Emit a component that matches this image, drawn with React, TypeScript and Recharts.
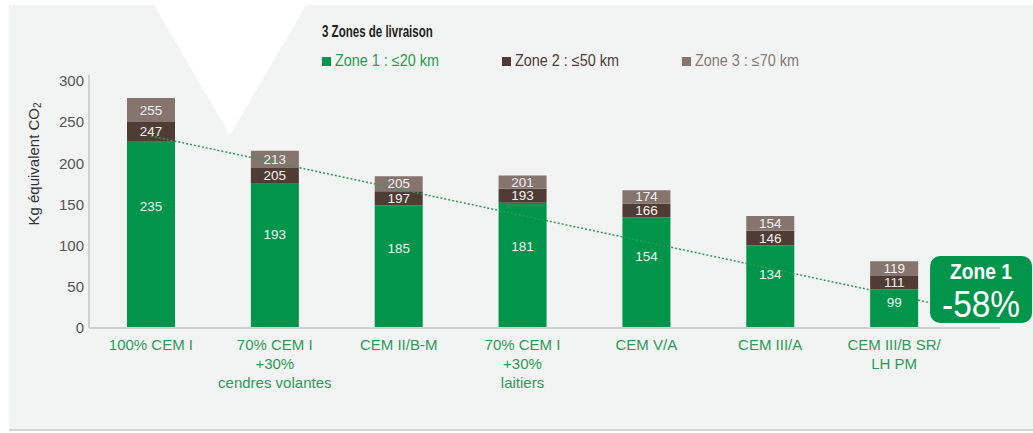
import React from 'react';
import { ComposedChart, Bar, Line, XAxis, YAxis, Legend, LabelList } from 'recharts';

const categories = [
  '100% CEM I',
  '70% CEM I\n+30%\ncendres volantes',
  'CEM II/B-M',
  '70% CEM I\n+30%\nlaitiers',
  'CEM V/A',
  'CEM III/A',
  'CEM III/B SR/\nLH PM',
];

// segment heights as they are drawn in the picture
const zone1 = [227, 175, 149, 152, 134, 100, 47];
const zone2 = [23, 19, 17, 17, 17, 18, 16];
const zone3 = [29, 21, 18, 16, 16, 18, 18];

// values printed on the segments
const zone1Labels = [235, 193, 185, 181, 154, 134, 99];
const zone2Labels = [247, 205, 197, 193, 166, 146, 111];
const zone3Labels = [255, 213, 205, 201, 174, 154, 119];

// dotted trend, first to last bar
const trend = [233, null, null, null, null, null, 40];

const yTicks = [0, 50, 100, 150, 200, 250, 300];

const GREEN = '#00954a';
const DARK = '#4f3c34';
const TAUPE = '#85756e';
const SANS = '"Liberation Sans", Arial, sans-serif';

const data = categories.map((name, i) => ({
  name,
  zone1: zone1[i],
  zone2: zone2[i],
  zone3: zone3[i],
  trend: trend[i],
}));

const CategoryTick = (props: any) => {
  const { x, y, payload } = props;
  const lines = String(payload.value).split('\n');
  return (
    <text x={x} y={y} textAnchor="middle" fill="#2f9a58" fontSize={15} fontFamily={SANS}>
      {lines.map((line, i) => (
        <tspan key={i} x={x} dy={i === 0 ? 22 : 19}>
          {line}
        </tspan>
      ))}
    </text>
  );
};

const segmentLabel = (labels: number[], pos: number) => (props: any) => {
  const { x, y, width, height, index } = props;
  return (
    <text
      x={x + width / 2}
      y={y + height * pos}
      textAnchor="middle"
      dominantBaseline="central"
      fill="#f2f2f2"
      fontSize={13.5}
      fontFamily={SANS}
    >
      {labels[index]}
    </text>
  );
};

// "Zone 1 -58%" badge hung on the last trend point
const ReductionBadge = (props: any) => {
  const { x, y, index } = props;
  if (index !== trend.length - 1) return null;
  const k = 0.2146;
  return (
    <g>
      <line
        x1={x + 24}
        y1={y + 24 * k}
        x2={x + 36}
        y2={y + 36 * k}
        stroke="#2f9a58"
        strokeWidth={1.5}
        strokeDasharray="2 2"
      />
      <rect x={x + 36} y={y - 39} width={102} height={67} rx={10} fill={GREEN} />
      <text
        x={x + 87}
        y={y - 24}
        textAnchor="middle"
        dominantBaseline="central"
        fill="#fff"
        fontSize={22}
        fontWeight="bold"
        fontFamily={SANS}
        textLength={62}
        lengthAdjust="spacingAndGlyphs"
      >
        Zone 1
      </text>
      <text
        x={x + 87}
        y={y + 9}
        textAnchor="middle"
        dominantBaseline="central"
        fill="#fff"
        fontSize={37}
        fontFamily={SANS}
        textLength={78}
        lengthAdjust="spacingAndGlyphs"
      >
        -58%
      </text>
    </g>
  );
};

const YLabel = () => (
  <text
    x={33}
    y={164}
    transform="rotate(-90, 33, 164)"
    textAnchor="middle"
    dominantBaseline="central"
    fill="#333"
    fontSize={15}
    fontFamily={SANS}
  >
    Kg équivalent CO
    <tspan fontSize={10} dy={4}>2</tspan>
  </text>
);

const legendColors: Record<string, string> = {
  zone1: '#2a9a55',
  zone2: '#4d3d37',
  zone3: '#867a75',
};

const renderLegend = (props: any) => {
  const payload = (props.payload || []).filter((e: any) => e.dataKey !== 'trend');
  return (
    <div style={{ fontFamily: SANS }}>
      <div style={{ height: 20, lineHeight: '20px', whiteSpace: 'nowrap' }}>
        <span
          style={{
            display: 'inline-block',
            fontWeight: 'bold',
            fontSize: 16,
            color: '#222',
            transform: 'scaleX(0.72)',
            transformOrigin: 'left center',
          }}
        >
          3 Zones de livraison
        </span>
      </div>
      <div style={{ display: 'flex', marginTop: 10 }}>
        {payload.map((entry: any) => (
          <div
            key={entry.dataKey}
            style={{
              width: 180,
              flexShrink: 0,
              display: 'flex',
              alignItems: 'center',
              fontSize: 16,
              whiteSpace: 'nowrap',
              color: legendColors[entry.dataKey],
            }}
          >
            <span style={{ width: 9, height: 9, background: entry.color, marginRight: 4, display: 'inline-block' }} />
            <span style={{ display: 'inline-block', transform: 'scaleX(0.9)', transformOrigin: 'left center' }}>
              {entry.value}
            </span>
          </div>
        ))}
      </div>
    </div>
  );
};

export default function App() {
  return (
    <div style={{ position: 'absolute', left: 0, top: 0, width: 1033, height: 433, background: '#fff', fontFamily: SANS }}>
      <div
        style={{
          position: 'absolute',
          left: 9,
          top: 5,
          width: 1024,
          height: 424,
          background: '#f2f4f3',
          borderBottom: '2px solid #d3d5d4',
        }}
      />
      <svg width={1033} height={433} style={{ position: 'absolute', left: 0, top: 0 }}>
        <polygon points="154,5 306,5 230,135" fill="#fff" />
      </svg>
      <div style={{ position: 'absolute', left: 0, top: 0 }}>
        <ComposedChart width={1033} height={433} data={data} margin={{ top: 75, right: 33, bottom: 45, left: 29 }}>
          <XAxis
            dataKey="name"
            height={60}
            interval={0}
            padding={{ left: 0, right: 44 }}
            tickLine={false}
            tickSize={0}
            tickMargin={0}
            axisLine={{ stroke: '#cfd1d0', strokeWidth: 2 }}
            tick={<CategoryTick />}
          />
          <YAxis
            width={60}
            domain={[0, 307]}
            ticks={yTicks}
            interval={0}
            tickLine={false}
            tickSize={3}
            tickMargin={2}
            axisLine={{ stroke: '#cfd1d0', strokeWidth: 2 }}
            tick={{ fontSize: 15, fill: '#555', fontFamily: SANS }}
            label={{ content: () => <YLabel /> }}
          />
          <Legend
            layout="horizontal"
            verticalAlign="middle"
            align="center"
            content={renderLegend}
            wrapperStyle={{ position: 'absolute', left: 322, top: 22, width: 620, height: 60 }}
          />
          <Line
            type="linear"
            dataKey="trend"
            connectNulls
            dot={false}
            stroke="#2f9a58"
            strokeWidth={1.5}
            strokeDasharray="2 2"
            legendType="none"
            isAnimationActive={false}
          >
            <LabelList dataKey="trend" content={<ReductionBadge />} />
          </Line>
          <Bar dataKey="zone1" name="Zone 1 : ≤20 km" stackId="a" fill={GREEN} barSize={48} isAnimationActive={false}>
            <LabelList dataKey="zone1" content={segmentLabel(zone1Labels, 0.35)} />
          </Bar>
          <Bar dataKey="zone2" name="Zone 2 : ≤50 km" stackId="a" fill={DARK} barSize={48} isAnimationActive={false}>
            <LabelList dataKey="zone2" content={segmentLabel(zone2Labels, 0.5)} />
          </Bar>
          <Bar dataKey="zone3" name="Zone 3 : ≤70 km" stackId="a" fill={TAUPE} barSize={48} isAnimationActive={false}>
            <LabelList dataKey="zone3" content={segmentLabel(zone3Labels, 0.5)} />
          </Bar>
        </ComposedChart>
      </div>
    </div>
  );
}
